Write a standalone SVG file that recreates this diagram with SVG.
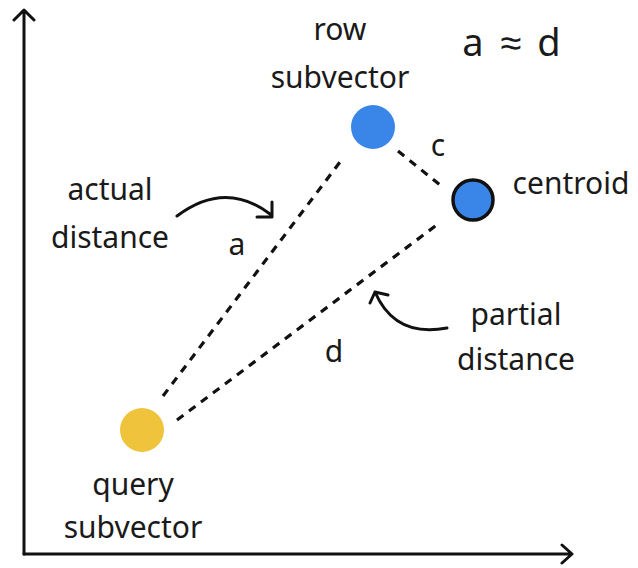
<svg xmlns="http://www.w3.org/2000/svg" width="638" height="568" viewBox="0 0 638 568">
<style>
text{font-family:"Noto Sans","Liberation Sans",sans-serif;fill:#1a1a1a;font-size:30px}
.ax{stroke:#111;stroke-width:3;fill:none;stroke-linecap:round;stroke-linejoin:round}
.dash{stroke:#111;stroke-width:3.2;fill:none;stroke-dasharray:8 7}
.arr{stroke:#111;stroke-width:3;fill:none;stroke-linecap:round;stroke-linejoin:round}
.f{font-size:38px}
</style>
<rect width="638" height="568" fill="#fff"/>
<g id="axes">
<path class="ax" d="M24 554 V10 M14 20 L24 10 L34 20"/>
<path class="ax" d="M24 554 H572 M562 545 L572 554 L562 563"/>
</g>
<g id="connectors">
<line class="dash" x1="163" y1="396" x2="340" y2="162"/>
<line class="dash" x1="177" y1="420" x2="438" y2="224"/>
<line class="dash" x1="398" y1="151" x2="440" y2="185"/>
<text x="237" y="255" text-anchor="middle">a</text>
<text x="334" y="362" text-anchor="middle">d</text>
<text x="438" y="156" text-anchor="middle">c</text>
</g>
<g id="row">
<circle cx="373" cy="127" r="22" fill="#3a86e8"/>
<text x="340" y="40" text-anchor="middle">row</text>
<text x="340" y="88" text-anchor="middle">subvector</text>
</g>
<g id="centroid">
<circle cx="473" cy="200" r="20" fill="#3a86e8" stroke="#111" stroke-width="3.5"/>
<text x="571" y="194" text-anchor="middle">centroid</text>
</g>
<g id="query">
<circle cx="142" cy="430" r="22" fill="#f0c33c"/>
<text x="133" y="495" text-anchor="middle">query</text>
<text x="133" y="538" text-anchor="middle">subvector</text>
</g>
<g id="actual-label">
<text x="110" y="200" text-anchor="middle">actual</text>
<text x="110" y="248" text-anchor="middle">distance</text>
<path class="arr" d="M177 216 Q225 180 270 214 M257 217 H272 V202"/>
</g>
<g id="partial-label">
<text x="516" y="325" text-anchor="middle">partial</text>
<text x="516" y="370" text-anchor="middle">distance</text>
<path class="arr" d="M447 328 Q395 338 375 292 M370 303 L375 292 L388 295"/>
</g>
<g id="formula">
<text class="f" x="473" y="56" text-anchor="middle">a</text>
<text class="f" x="511" y="56" text-anchor="middle">≈</text>
<text class="f" x="549" y="56" text-anchor="middle">d</text>
</g>
</svg>
